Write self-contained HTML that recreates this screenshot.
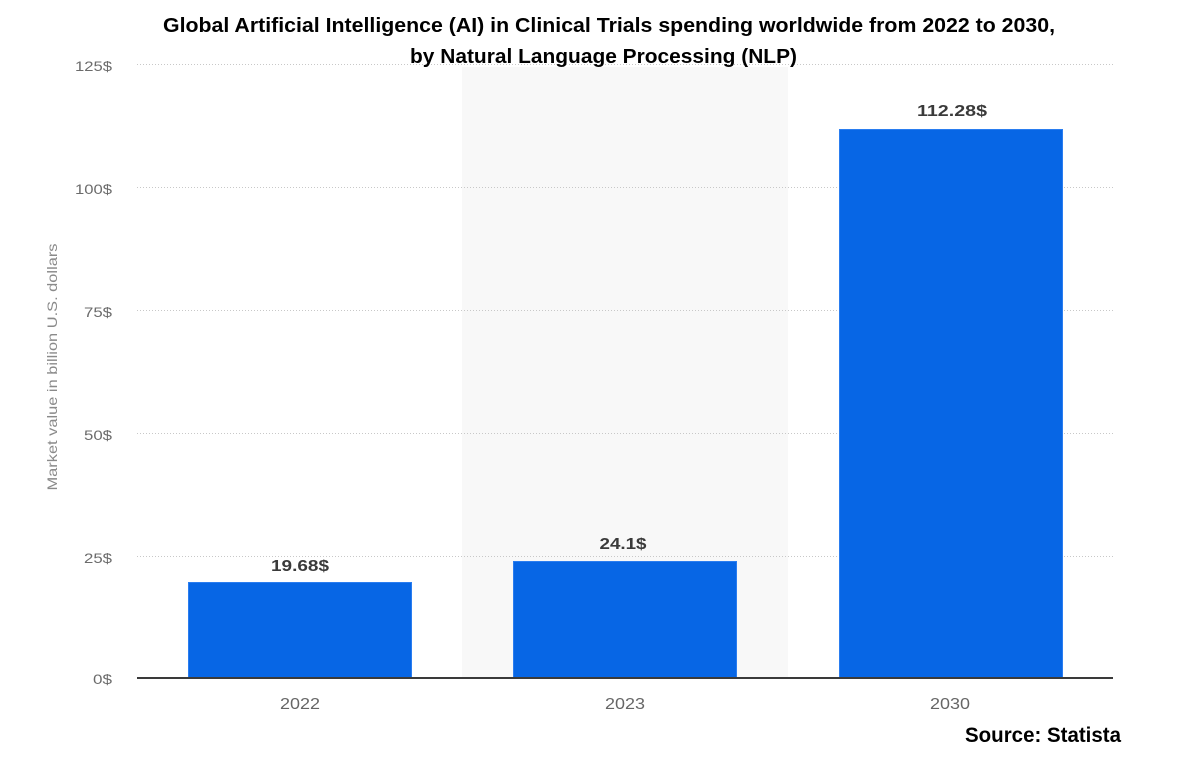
<!DOCTYPE html>
<html>
<head>
<meta charset="utf-8">
<style>
  html, body { margin: 0; padding: 0; background: #ffffff; }
  svg { display: block; }
</style>
</head>
<body>
<svg width="1183" height="759" viewBox="0 0 1183 759" xmlns="http://www.w3.org/2000/svg">
  <rect x="0" y="0" width="1183" height="759" fill="#ffffff"/>
  <!-- highlight band for 2023 -->
  <rect x="462" y="67" width="326" height="611" fill="#f8f8f8"/>

  <!-- gridlines -->
  <g stroke="#c8c8c8" stroke-width="1" stroke-dasharray="1,2">
    <line x1="137" y1="64.5" x2="1113" y2="64.5"/>
    <line x1="137" y1="187.5" x2="1113" y2="187.5"/>
    <line x1="137" y1="310.5" x2="1113" y2="310.5"/>
    <line x1="137" y1="433.5" x2="1113" y2="433.5"/>
    <line x1="137" y1="556.5" x2="1113" y2="556.5"/>
  </g>

  <!-- y tick labels -->
  <g font-family="Liberation Sans, sans-serif" font-size="14" fill="#6b6b6b" text-anchor="end" lengthAdjust="spacingAndGlyphs">
    <text x="112" y="71" textLength="37" lengthAdjust="spacingAndGlyphs">125$</text>
    <text x="112" y="194" textLength="37" lengthAdjust="spacingAndGlyphs">100$</text>
    <text x="112" y="317" textLength="28" lengthAdjust="spacingAndGlyphs">75$</text>
    <text x="112" y="440" textLength="28" lengthAdjust="spacingAndGlyphs">50$</text>
    <text x="112" y="563" textLength="28" lengthAdjust="spacingAndGlyphs">25$</text>
    <text x="112" y="684" textLength="19" lengthAdjust="spacingAndGlyphs">0$</text>
  </g>

  <!-- y axis title -->
  <text transform="translate(57,367) rotate(-90)" font-family="Liberation Sans, sans-serif" font-size="14" fill="#8a8a8a" text-anchor="middle" textLength="247" lengthAdjust="spacingAndGlyphs">Market value in billion U.S. dollars</text>

  <!-- bars -->
  <g fill="#0766e5" stroke="#2a7df0" stroke-width="1">
    <rect x="188.5" y="582.5" width="223" height="95.5"/>
    <rect x="513.5" y="561.5" width="223" height="116.5"/>
    <rect x="839.5" y="129.5" width="223" height="548.5"/>
  </g>

  <!-- x axis line -->
  <line x1="137" y1="678" x2="1113" y2="678" stroke="#3a3a3a" stroke-width="2"/>

  <!-- value labels -->
  <g font-family="Liberation Sans, sans-serif" font-size="16" font-weight="bold" fill="#3a3a3a" text-anchor="middle">
    <text x="300" y="571" textLength="58" lengthAdjust="spacingAndGlyphs">19.68$</text>
    <text x="623" y="549" textLength="47" lengthAdjust="spacingAndGlyphs">24.1$</text>
    <text x="952" y="116" textLength="70" lengthAdjust="spacingAndGlyphs">112.28$</text>
  </g>

  <!-- x tick labels -->
  <g font-family="Liberation Sans, sans-serif" font-size="16" fill="#666666" text-anchor="middle">
    <text x="300" y="709" textLength="40" lengthAdjust="spacingAndGlyphs">2022</text>
    <text x="625" y="709" textLength="40" lengthAdjust="spacingAndGlyphs">2023</text>
    <text x="950" y="709" textLength="40" lengthAdjust="spacingAndGlyphs">2030</text>
  </g>

  <!-- title -->
  <g font-family="Liberation Sans, sans-serif" font-size="20" font-weight="bold" fill="#000000">
    <text x="163" y="32" textLength="892" lengthAdjust="spacingAndGlyphs">Global Artificial Intelligence (AI) in Clinical Trials spending worldwide from 2022 to 2030,</text>
    <text x="410" y="63" textLength="387" lengthAdjust="spacingAndGlyphs">by Natural Language Processing (NLP)</text>
  </g>

  <!-- source -->
  <text x="965" y="742" font-family="Liberation Sans, sans-serif" font-size="21" font-weight="bold" fill="#000000" textLength="156" lengthAdjust="spacingAndGlyphs">Source: Statista</text>
</svg>
</body>
</html>
